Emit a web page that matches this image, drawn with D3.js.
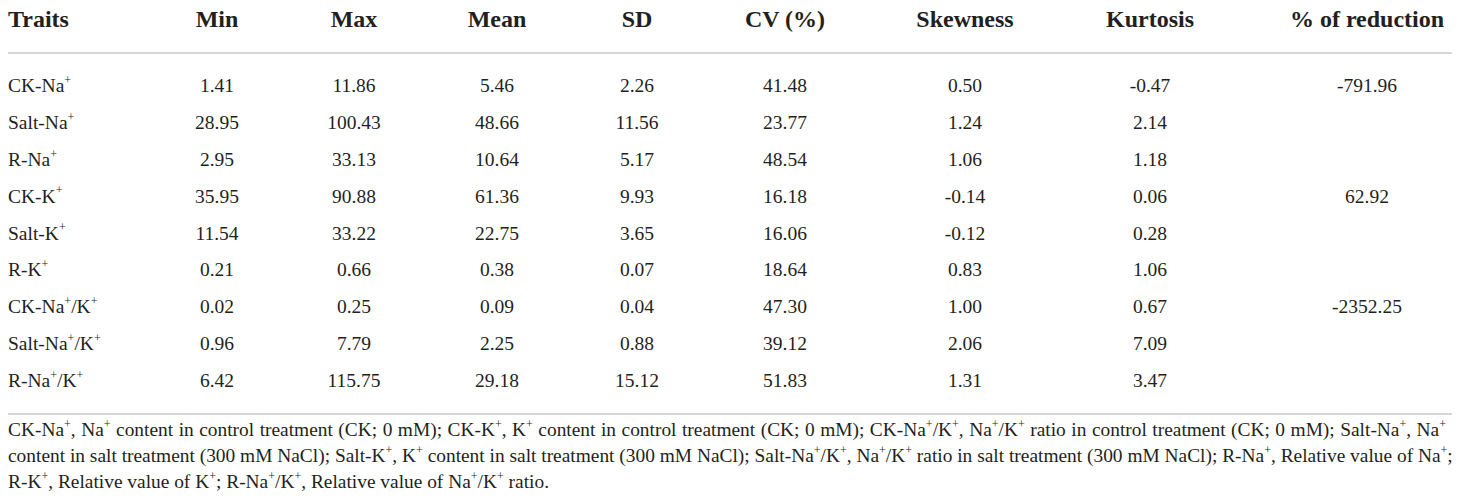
<!DOCTYPE html>
<html>
<head>
<meta charset="utf-8">
<script src="https://cdn.jsdelivr.net/npm/d3@7"></script>
<style>
  html, body { margin: 0; padding: 0; background: #ffffff; }
  svg { display: block; }
</style>
</head>
<body>
<svg id="chart" width="1460" height="504"></svg>
<script>
// ---------- data ----------
const headers = ["Traits", "Min", "Max", "Mean", "SD", "CV (%)", "Skewness", "Kurtosis", "% of reduction"];
const traits = ["CK-Na{+}", "Salt-Na{+}", "R-Na{+}", "CK-K{+}", "Salt-K{+}", "R-K{+}", "CK-Na{+}/K{+}", "Salt-Na{+}/K{+}", "R-Na{+}/K{+}"];
const minV  = [1.41, 28.95, 2.95, 35.95, 11.54, 0.21, 0.02, 0.96, 6.42];
const maxV  = [11.86, 100.43, 33.13, 90.88, 33.22, 0.66, 0.25, 7.79, 115.75];
const meanV = [5.46, 48.66, 10.64, 61.36, 22.75, 0.38, 0.09, 2.25, 29.18];
const sdV   = [2.26, 11.56, 5.17, 9.93, 3.65, 0.07, 0.04, 0.88, 15.12];
const cvV   = [41.48, 23.77, 48.54, 16.18, 16.06, 18.64, 47.30, 39.12, 51.83];
const skewV = [0.50, 1.24, 1.06, -0.14, -0.12, 0.83, 1.00, 2.06, 1.31];
const kurtV = [-0.47, 2.14, 1.18, 0.06, 0.28, 1.06, 0.67, 7.09, 3.47];
const redV  = [-791.96, null, null, 62.92, null, null, -2352.25, null, null];
const footnoteLines = [
  "CK-Na{+}, Na{+} content in control treatment (CK; 0 mM); CK-K{+}, K{+} content in control treatment (CK; 0 mM); CK-Na{+}/K{+}, Na{+}/K{+} ratio in control treatment (CK; 0 mM); Salt-Na{+}, Na{+}",
  "content in salt treatment (300 mM NaCl); Salt-K{+}, K{+} content in salt treatment (300 mM NaCl); Salt-Na{+}/K{+}, Na{+}/K{+} ratio in salt treatment (300 mM NaCl); R-Na{+}, Relative value of Na{+};",
  "R-K{+}, Relative value of K{+}; R-Na{+}/K{+}, Relative value of Na{+}/K{+} ratio."
];

// ---------- layout ----------
const left = 8, right = 1452;
const textColor = "#231f20";
const ruleColor = "#c8c8c8";
const fontFamily = "'Liberation Serif', 'Times New Roman', serif";
const headFS = 24, bodyFS = 19.5, noteFS = 19.4;

const columns = [minV, maxV, meanV, sdV, cvV, skewV, kurtV, redV];
const colKeys = headers.slice(1);
const xCol = d3.scaleOrdinal()
  .domain(colKeys)
  .range([217, 354, 497, 637, 785, 965, 1150, 1367]);
const yRow = d3.scaleLinear().domain([0, traits.length - 1]).range([92, 387]);
const yNote = d3.scaleLinear().domain([0, 2]).range([436, 488]);

const svg = d3.select("#chart")
  .attr("font-family", fontFamily)
  .attr("fill", textColor);

// rich text helper: "{+}" -> superscript
function rich(sel, str, fs) {
  const parts = str.split(/(\{[^}]*\})/).filter(s => s.length);
  let raised = false;
  const shift = fs * 0.42;
  parts.forEach(p => {
    const isSup = p.startsWith("{");
    const t = sel.append("tspan").text(isSup ? p.slice(1, -1) : p);
    if (isSup) {
      t.attr("font-size", fs * 0.62);
      if (!raised) { t.attr("dy", -shift); raised = true; }
    } else {
      t.attr("font-size", fs);
      if (raised) { t.attr("dy", shift); raised = false; }
    }
  });
}

const fmt = v => (v === null ? "" : v.toFixed(2));

// header
svg.append("text")
  .attr("x", left).attr("y", 27)
  .attr("font-size", headFS).attr("font-weight", "bold")
  .text(headers[0]);

svg.selectAll("text.head")
  .data(colKeys)
  .join("text")
  .attr("class", "head")
  .attr("x", d => xCol(d)).attr("y", 27)
  .attr("text-anchor", "middle")
  .attr("font-size", headFS).attr("font-weight", "bold")
  .text(d => d);

// rules
svg.append("line")
  .attr("x1", left).attr("x2", right).attr("y1", 53).attr("y2", 53)
  .attr("stroke", ruleColor).attr("stroke-width", 1.5);
svg.append("line")
  .attr("x1", left).attr("x2", right).attr("y1", 414).attr("y2", 414)
  .attr("stroke", ruleColor).attr("stroke-width", 1.5);

// trait labels
svg.selectAll("text.trait")
  .data(traits)
  .join("text")
  .attr("class", "trait")
  .attr("x", left).attr("y", (d, i) => yRow(i))
  .each(function(d) { rich(d3.select(this), d, bodyFS); });

// value cells
columns.forEach((col, ci) => {
  svg.selectAll("text.c" + ci)
    .data(col)
    .join("text")
    .attr("class", "c" + ci)
    .attr("x", xCol(colKeys[ci]))
    .attr("y", (d, i) => yRow(i))
    .attr("text-anchor", "middle")
    .attr("font-size", bodyFS)
    .text(d => fmt(d));
});

// footnote
const notes = svg.selectAll("text.note")
  .data(footnoteLines)
  .join("text")
  .attr("class", "note")
  .attr("x", left).attr("y", (d, i) => yNote(i))
  .each(function(d) { rich(d3.select(this), d, noteFS); });

// justify first two lines to the rule width
notes.each(function(d, i) {
  if (i < 2) {
    const natural = this.getComputedTextLength();
    const spaces = (d.match(/ /g) || []).length;
    const extra = Math.max(0, (right - left - 6 - natural) / spaces);
    d3.select(this).attr("word-spacing", extra);
  }
});
</script>
</body>
</html>
